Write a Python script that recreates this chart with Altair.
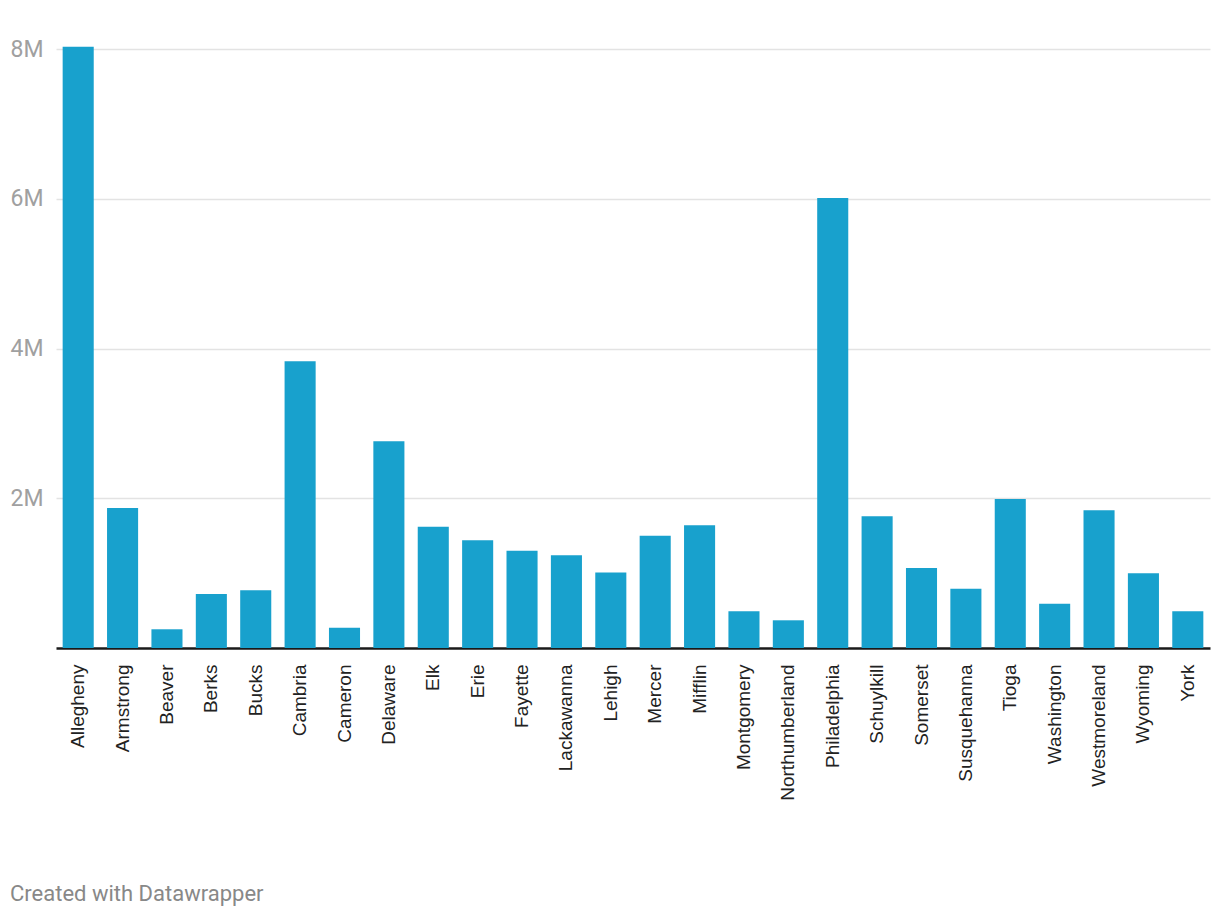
import altair as alt
import pandas as pd

counties = ["Allegheny", "Armstrong", "Beaver", "Berks", "Bucks", "Cambria", "Cameron",
            "Delaware", "Elk", "Erie", "Fayette", "Lackawanna", "Lehigh", "Mercer", "Mifflin",
            "Montgomery", "Northumberland", "Philadelphia", "Schuylkill", "Somerset",
            "Susquehanna", "Tioga", "Washington", "Westmoreland", "Wyoming", "York"]
values = [8030000, 1870000, 250000, 720000, 770000, 3830000, 270000,
          2760000, 1620000, 1440000, 1300000, 1240000, 1010000, 1500000, 1640000,
          490000, 370000, 6010000, 1760000, 1070000,
          790000, 1990000, 590000, 1840000, 1000000, 490000]
y_ticks = [2000000, 4000000, 6000000, 8000000]
footer = "Created with Datawrapper"

df = pd.DataFrame({"county": counties, "value": values})

chart = alt.Chart(df).mark_bar(color="#18a1cd").encode(
    x=alt.X("county:N", sort=counties, title=None,
            scale=alt.Scale(paddingInner=0.3, paddingOuter=0.15),
            axis=alt.Axis(labelAngle=-90, labelFont="Liberation Sans", labelFontSize=19,
                          labelColor="#222222", labelPadding=16, ticks=False,
                          domainColor="#1a1a1a", domainWidth=2.5, grid=False)),
    y=alt.Y("value:Q", title=None,
            scale=alt.Scale(domain=[0, 8000000], nice=False),
            axis=alt.Axis(values=y_ticks, labelExpr="datum.value / 1000000 + 'M'",
                          labelFont="Roboto", labelFontSize=23, labelColor="#a0a0a0",
                          labelPadding=13, ticks=False, domain=False,
                          gridColor="#e3e3e3", gridWidth=1.5)),
).properties(
    width=1154,
    height=599,
    background="white",
    autosize=alt.AutoSizeParams(type="none"),
    padding={"left": 48, "top": 41, "right": 2, "bottom": 265},
    title=alt.TitleParams(footer, orient="bottom", anchor="start", font="Roboto",
                          fontSize=22, fontWeight="normal", color="#888888",
                          dx=0, offset=84),
).configure_view(stroke=None)

chart.save("out.html", embed_options={"renderer": "svg", "actions": False})
